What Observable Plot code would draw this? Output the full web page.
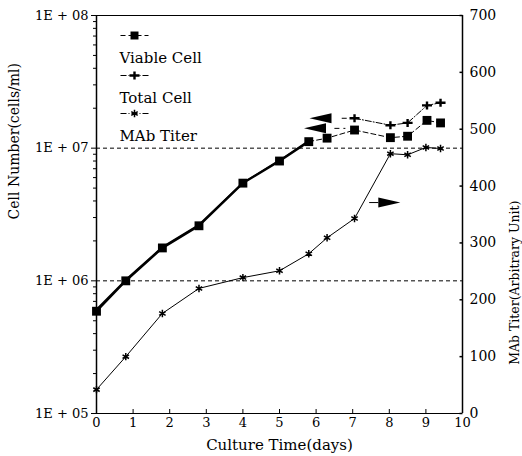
<!DOCTYPE html>
<html><head><meta charset="utf-8">
<script src="https://cdn.jsdelivr.net/npm/d3@7"></script>
<script src="https://cdn.jsdelivr.net/npm/@observablehq/plot@0.6"></script>
<style>body{margin:0;background:#fff}</style>
</head><body><div id="chart"></div>
<script>
// data
const viableDays = [0, 0.8, 1.8, 2.8, 4, 5, 5.8, 6.3, 7.05, 8.03, 8.5, 9.03, 9.4];
const viableCells = [5.9e5, 1.0e6, 1.77e6, 2.6e6, 5.45e6, 8.0e6, 1.12e7, 1.19e7, 1.37e7, 1.2e7, 1.23e7, 1.62e7, 1.55e7];
const totalDays = [0, 0.8, 1.8, 2.8, 4, 5, 5.8, 7.05, 8.03, 8.5, 9.03, 9.4];
const totalCells = [6.1e5, 1.02e6, 1.8e6, 2.65e6, 5.5e6, 8.1e6, 1.14e7, 1.68e7, 1.49e7, 1.55e7, 2.1e7, 2.2e7];
const mabDays = [0, 0.8, 1.8, 2.8, 4, 5, 5.8, 6.3, 7.05, 8.03, 8.5, 9.0, 9.4];
const mabTiter = [42, 100, 176, 220, 239, 251, 281, 309, 343, 457, 455, 468, 466];
const xTicks = [0,1,2,3,4,5,6,7,8,9,10];
const leftTicks = [1e5, 1e6, 1e7, 1e8];
const leftTickLabels = ["1E + 05", "1E + 06", "1E + 07", "1E + 08"];
const rightTicks = [0, 100, 200, 300, 400, 500, 600, 700];
const refLines = [1e6, 1e7];
const legendLabels = ["Viable Cell", "Total Cell", "MAb Titer"];
const xLabel = "Culture Time(days)";
const yLabel = "Cell Number(cells/ml)";
const y2Label = "MAb Titer(Arbitrary Unit)";
// arrow annotations (center x in days, value on its own axis)
const arrowsLeft = [{x: 6.12, y: 1.68e7, tail: [6.7, 7.05]}, {x: 5.97, y: 1.41e7, tail: [6.5, 6.8]}];
const arrowsRight = [{x: 8.0, v: 371, tail: [7.45, 7.7]}];

const tmax = 700;
const toLog = v => 1e5 * Math.pow(10, 3 * v / tmax);

const viable = viableDays.map((d, i) => ({x: d, y: viableCells[i], i}));
const total = totalDays.map((d, i) => ({x: d, y: totalCells[i], i}));
const mab = mabDays.map((d, i) => ({x: d, y: toLog(mabTiter[i])}));
const minor = [];
for (let e = 5; e < 8; e++) for (let m = 2; m <= 9; m++) minor.push(m * Math.pow(10, e));

const leftTri = {draw(c) { c.moveTo(-11, 0); c.lineTo(11, -5); c.lineTo(11, 5); c.closePath(); }};
const rightTri = {draw(c) { c.moveTo(11, 0); c.lineTo(-11, -5); c.lineTo(-11, 5); c.closePath(); }};
const hTick = {draw(c) { c.moveTo(-3, 0); c.lineTo(0, 0); }};
const dashSeg = {draw(c) { c.moveTo(-14, 0); c.lineTo(14, 0); }};
const plusSym = {draw(c) { c.moveTo(-1.2,-4); c.lineTo(1.2,-4); c.lineTo(1.2,-1.2); c.lineTo(5,-1.2); c.lineTo(5,1.2); c.lineTo(1.2,1.2); c.lineTo(1.2,4); c.lineTo(-1.2,4); c.lineTo(-1.2,1.2); c.lineTo(-5,1.2); c.lineTo(-5,-1.2); c.lineTo(-1.2,-1.2); c.closePath(); }};

const ff = "DejaVu Serif, Liberation Serif, serif";
const legendSym = [
  {symbol: "square", r: 4.5, fill: "#000"},
  {symbol: plusSym, r: 4, fill: "#000"},
  {symbol: "asterisk", r: 3.5, fill: "none", stroke: "#000", strokeWidth: 1.5}
];
const legendDy = [20, 60, 98];

const legendMarks = legendLabels.flatMap((lab, i) => [
  Plot.dot([lab], {frameAnchor: "top-left", dx: 38, dy: legendDy[i], symbol: dashSeg, stroke: "#000", strokeWidth: 1.2, strokeDasharray: i === 0 ? "5,3" : "6,2,1,2"}),
  Plot.dot([lab], {frameAnchor: "top-left", dx: 38, dy: legendDy[i], ...legendSym[i]}),
  Plot.text([lab], {frameAnchor: "top-left", dx: 23, dy: legendDy[i] + 17, text: d => d, textAnchor: "start", fontSize: 15, fill: "#000"})
]);

const plot = Plot.plot({
  width: 522, height: 456,
  marginLeft: 96, marginRight: 60, marginTop: 15, marginBottom: 43,
  style: {fontFamily: ff, fontSize: "13px", background: "#fff", color: "#000"},
  x: {domain: [0, 10]},
  y: {type: "log", domain: [1e5, 1e8]},
  marks: [
    Plot.ruleY(refLines, {stroke: "#000", strokeDasharray: "4,3", strokeWidth: 1}),
    Plot.ruleY([1e8], {stroke: "#000", strokeWidth: 1.2}),
    Plot.ruleY([1e5], {stroke: "#000", strokeWidth: 1.2}),
    Plot.ruleX([0, 10], {stroke: "#000", strokeWidth: 1.5}),
    Plot.axisX({ticks: xTicks, tickSize: -4, tickPadding: 8, label: null, fontSize: 13}),
    Plot.axisY({ticks: leftTicks, tickFormat: d => leftTickLabels[leftTicks.indexOf(d)], tickSize: 5, tickPadding: 3, label: null, fontSize: 13}),
    Plot.axisY({ticks: minor, tickFormat: () => "", tickSize: 3, label: null}),
    // right axis (MAb titer)
    Plot.dot(rightTicks, {y: toLog, frameAnchor: "right", symbol: hTick, stroke: "#000", r: 3}),
    Plot.text(rightTicks, {y: toLog, frameAnchor: "right", dx: 7, textAnchor: "start", text: d => String(d), fontSize: 14, fill: "#000"}),
    // axis titles
    Plot.text([xLabel], {frameAnchor: "bottom", dy: 36, text: d => d, fontSize: 15, fill: "#000"}),
    Plot.text([yLabel], {frameAnchor: "left", dx: -82, dy: 5, rotate: -90, text: d => d, fontSize: 14, fill: "#000"}),
    Plot.text([y2Label], {frameAnchor: "right", dx: 52, dy: -14, rotate: -90, text: d => d, fontSize: 12.5, fill: "#000"}),
    // lines
    Plot.line(viable.filter(d => d.i <= 6), {x: "x", y: "y", stroke: "#000", strokeWidth: 2.2}),
    Plot.line(total.filter(d => d.i <= 6), {x: "x", y: "y", stroke: "#000", strokeWidth: 1.6}),
    Plot.line(viable.filter(d => d.i >= 6), {x: "x", y: "y", stroke: "#000", strokeWidth: 1, strokeDasharray: "5,3"}),
    Plot.line(total.filter(d => d.i >= 7), {x: "x", y: "y", stroke: "#000", strokeWidth: 1, strokeDasharray: "6,2,1,2"}),
    Plot.line(mab, {x: "x", y: "y", stroke: "#000", strokeWidth: 1}),
    // markers
    Plot.dot(viable, {x: "x", y: "y", symbol: "square", r: 5, fill: "#000"}),
    Plot.dot(total.filter(d => d.i >= 7), {x: "x", y: "y", symbol: plusSym, r: 4, fill: "#000"}),
    Plot.dot(mab, {x: "x", y: "y", symbol: "asterisk", r: 3.5, stroke: "#000", strokeWidth: 1.5}),
    // arrows
    Plot.link(arrowsLeft, {x1: d => d.tail[0], x2: d => d.tail[1], y1: "y", y2: "y", stroke: "#000", strokeDasharray: "5,4"}),
    Plot.dot(arrowsLeft, {x: "x", y: "y", symbol: leftTri, r: 5, fill: "#000"}),
    Plot.link(arrowsRight, {x1: d => d.tail[0], x2: d => d.tail[1], y1: d => toLog(d.v), y2: d => toLog(d.v), stroke: "#000"}),
    Plot.dot(arrowsRight, {x: "x", y: d => toLog(d.v), symbol: rightTri, r: 5, fill: "#000"}),
    ...legendMarks
  ]
});
document.getElementById("chart").appendChild(plot);
</script>
</body></html>
